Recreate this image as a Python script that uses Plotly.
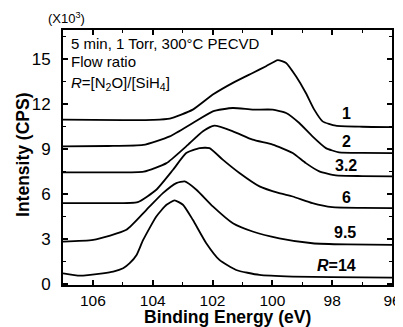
import plotly.graph_objects as go

# Binding energy (eV) and intensity (x10^3 CPS)
be_1 = [107.0, 105.0, 104.0, 103.43, 102.66, 101.99, 101.32, 100.66, 100.21, 99.82, 99.54, 99.21, 98.88, 98.6, 98.32, 97.88, 97.0, 96.0]
int_1 = [10.93, 10.9, 10.92, 11.0, 11.6, 12.6, 13.38, 14.04, 14.49, 14.9, 14.71, 13.82, 12.71, 11.6, 10.82, 10.53, 10.46, 10.44]

be_2 = [107.0, 105.5, 104.32, 103.43, 102.66, 101.99, 101.32, 100.66, 99.99, 99.54, 99.1, 98.66, 98.21, 97.77, 97.0, 96.0]
int_2 = [9.16, 9.18, 9.25, 9.82, 10.71, 11.49, 11.71, 11.6, 11.6, 11.38, 10.71, 9.82, 9.04, 8.76, 8.72, 8.71]

be_32 = [107.0, 105.5, 104.3, 103.54, 102.88, 102.32, 101.94, 101.32, 100.66, 99.99, 99.32, 98.88, 98.43, 97.88, 97.0, 96.0]
int_32 = [7.42, 7.42, 7.47, 8.04, 9.16, 10.16, 10.53, 10.16, 9.6, 9.27, 8.71, 8.04, 7.49, 7.22, 7.18, 7.16]

be_6 = [107.0, 105.5, 104.5, 103.88, 103.32, 102.88, 102.43, 102.1, 101.66, 101.1, 100.43, 99.77, 99.32, 98.66, 98.0, 97.0, 96.0]
int_6 = [5.38, 5.38, 5.45, 6.27, 7.6, 8.71, 9.04, 9.04, 8.27, 7.38, 6.49, 6.04, 5.82, 5.38, 5.11, 5.06, 5.04]

be_95 = [107.0, 105.99, 104.88, 104.21, 103.66, 103.21, 102.93, 102.54, 101.99, 101.32, 100.66, 99.77, 98.66, 97.5, 96.0]
int_95 = [2.82, 2.93, 3.6, 4.93, 6.04, 6.71, 6.82, 6.27, 5.16, 4.04, 3.49, 3.04, 2.71, 2.63, 2.6]

be_14 = [107.0, 106.43, 105.67, 105.32, 104.99, 104.77, 104.54, 104.32, 103.88, 103.54, 103.27, 102.99, 102.66, 102.21, 101.77, 101.21, 100.43, 99.32, 98.0, 96.0]
int_14 = [0.71, 0.55, 0.71, 0.82, 1.04, 1.38, 1.93, 2.93, 4.49, 5.27, 5.56, 5.27, 4.27, 2.71, 1.6, 0.93, 0.6, 0.49, 0.45, 0.42]

series = [(be_1, int_1), (be_2, int_2), (be_32, int_32), (be_6, int_6), (be_95, int_95), (be_14, int_14)]

labels = ["1", "2", "3.2", "6", "9.5", "<i>R</i>=14"]
label_x = [97.53, 97.53, 97.55, 97.53, 97.58, 97.85]
label_y = [11.33, 9.5, 7.9, 5.77, 3.43, 1.2]

x_ticks = [106, 104, 102, 100, 98, 96]
y_ticks = [0, 3, 6, 9, 12, 15]

FONT = "Liberation Sans, Arial, sans-serif"

fig = go.Figure()
for xs, ys in series:
    fig.add_trace(go.Scatter(x=xs, y=ys, mode="lines",
                             line=dict(color="black", width=1.8, shape="spline", smoothing=0.5),
                             showlegend=False, hoverinfo="skip"))

for t, x, y in zip(labels, label_x, label_y):
    fig.add_annotation(x=x, y=y, text="<b>" + t + "</b>", showarrow=False,
                       font=dict(size=16, color="black", family=FONT))

info_lines = ["5 min, 1 Torr, 300°C PECVD", "Flow ratio",
              "<i>R</i>=[N<sub>2</sub>O]/[SiH<sub>4</sub>]"]
info_y = [0.949, 0.875, 0.792]
for t, y in zip(info_lines, info_y):
    fig.add_annotation(xref="paper", yref="paper", x=0.018, y=y, xanchor="left", yanchor="middle",
                       showarrow=False, text=t, font=dict(size=15, color="black", family=FONT))

fig.add_annotation(xref="paper", yref="paper", x=0.01, y=1.0, xanchor="center", yanchor="bottom",
                   yshift=2, showarrow=False, text="(X10<sup>3</sup>)",
                   font=dict(size=13, color="black", family=FONT))

fig.add_annotation(xref="paper", yref="paper", x=0.5, y=-0.1255, xanchor="center", yanchor="middle",
                   showarrow=False, text="<b>Binding Energy (eV)</b>",
                   font=dict(size=17.5, color="black", family=FONT))
fig.add_annotation(xref="paper", yref="paper", x=-0.12, y=0.508, xanchor="center", yanchor="middle",
                   showarrow=False, textangle=-90, text="<b>Intensity (CPS)</b>",
                   font=dict(size=17.5, color="black", family=FONT))

# page body has an 8px margin, so the figure is sized to end at the window edge
fig.update_layout(
    width=395, height=319,
    margin=dict(l=55, r=11, t=22, b=42),
    paper_bgcolor="white", plot_bgcolor="white",
    font=dict(family=FONT, color="black"),
    xaxis=dict(range=[107, 96], tickvals=x_ticks, ticks="inside", ticklen=5, tickwidth=1.5,
               tickcolor="black", automargin=False, ticklabelstandoff=0,
               minor=dict(dtick=1, ticks="inside", ticklen=3, tickwidth=1.2, tickcolor="black"),
               showline=True, linecolor="black", linewidth=2, mirror="ticks",
               showgrid=False, zeroline=False, tickfont=dict(size=15.5)),
    yaxis=dict(range=[-0.07, 16.9], tickvals=y_ticks, ticks="inside", ticklen=5, tickwidth=1.5,
               tickcolor="black", automargin=False, ticklabelstandoff=7,
               minor=dict(dtick=1.5, ticks="inside", ticklen=3, tickwidth=1.2, tickcolor="black"),
               showline=True, linecolor="black", linewidth=2, mirror="ticks",
               showgrid=False, zeroline=False, tickfont=dict(size=17)),
)

fig.write_html("out.html")
